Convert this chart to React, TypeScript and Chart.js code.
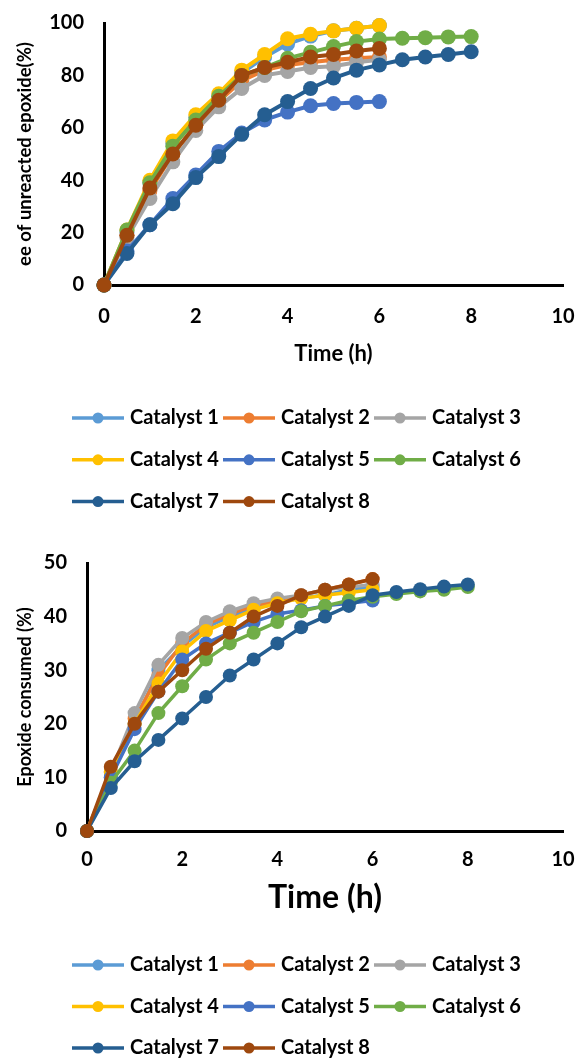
import React, { useEffect, useRef } from "react";
import { Chart, registerables } from "chart.js";

Chart.register(...registerables);

const FONT = "Lato, 'Open Sans', sans-serif";

const catalystNames = ["Catalyst 1", "Catalyst 2", "Catalyst 3", "Catalyst 4", "Catalyst 5", "Catalyst 6", "Catalyst 7", "Catalyst 8"];
const catalystColors = ["#5B9BD5", "#ED7D31", "#A5A5A5", "#FFC000", "#4472C4", "#70AD47", "#255E91", "#9E480E"];

const timeTo6 = [0, 0.5, 1, 1.5, 2, 2.5, 3, 3.5, 4, 4.5, 5, 5.5, 6];
const timeTo8 = [0, 0.5, 1, 1.5, 2, 2.5, 3, 3.5, 4, 4.5, 5, 5.5, 6, 6.5, 7, 7.5, 8];

// Chart 1: ee of unreacted epoxide (%)
const eeCatalyst1 = [0, 20, 39, 54, 64, 72, 81, 87, 92, 95, 97, 98, 99];
const eeCatalyst2 = [0, 19, 36, 50, 61, 70, 78, 82, 84, 85, 86, 86.5, 87];
const eeCatalyst3 = [0, 18, 33, 47, 59, 68, 75, 80, 81.5, 83, 83.5, 85, 86];
const eeCatalyst4 = [0, 21, 40, 55, 65, 73, 82, 88, 94, 95.7, 97, 98, 99];
const eeCatalyst5 = [0, 13, 23, 33, 42, 51, 58, 63, 66, 68.4, 69.3, 69.7, 70];
const eeCatalyst6 = [0, 21, 39, 53, 63, 72, 80, 83, 86.5, 88.8, 91, 92.9, 93.9, 94.2, 94.4, 94.7, 94.8];
const eeCatalyst7 = [0, 12, 23, 31, 41, 49, 57.5, 65, 70, 75, 79, 82, 84, 86, 87, 88, 89];
const eeCatalyst8 = [0, 19, 37, 50, 61, 70.5, 80, 83, 85, 87, 88, 89.3, 90.3];

// Chart 2: epoxide consumed (%)
const consumedCatalyst1 = [0, 10, 20, 30, 34.5, 38, 40, 41.5, 42.5, 43.5, 44, 45, 45.5];
const consumedCatalyst2 = [0, 11, 21, 29, 35, 38.5, 40.5, 42, 43, 44, 45, 46, 47];
const consumedCatalyst3 = [0, 11, 22, 31, 36, 39, 41, 42.5, 43.4, 44, 45, 45.5, 46];
const consumedCatalyst4 = [0, 11, 20, 27.5, 33.5, 37.3, 39.3, 41.3, 42.5, 43.4, 44, 44.5, 45];
const consumedCatalyst5 = [0, 10, 19, 26, 32, 35, 37, 39, 40.5, 41.2, 42, 42.5, 43];
const consumedCatalyst6 = [0, 9, 15, 22, 27, 32, 35, 37, 39, 41, 42, 43, 43.7, 44.2, 44.7, 45, 45.5];
const consumedCatalyst7 = [0, 8, 13, 17, 21, 25, 29, 32, 35, 38, 40, 42, 44, 44.6, 45.1, 45.6, 46];
const consumedCatalyst8 = [0, 12, 20, 26, 30, 34, 37, 40, 42, 44, 45, 46, 47];

const eeSeries = [eeCatalyst1, eeCatalyst2, eeCatalyst3, eeCatalyst4, eeCatalyst5, eeCatalyst6, eeCatalyst7, eeCatalyst8];
const consumedSeries = [consumedCatalyst1, consumedCatalyst2, consumedCatalyst3, consumedCatalyst4, consumedCatalyst5, consumedCatalyst6, consumedCatalyst7, consumedCatalyst8];

const xTickStep = 2;
const xMax = 10;
const eeTickStep = 20;
const eeMax = 100;
const consumedTickStep = 10;
const consumedMax = 50;

const gridLegend = {
  id: "gridLegend",
  afterDraw(chart: any, _args: any, opts: any) {
    const { ctx } = chart;
    ctx.save();
    ctx.font = `bold ${opts.fontSize}px ${FONT}`;
    ctx.textBaseline = "middle";
    ctx.textAlign = "left";
    chart.data.datasets.forEach((d: any, i: number) => {
      const col = i % opts.columns;
      const row = Math.floor(i / opts.columns);
      const x = opts.left + col * opts.colWidth;
      const y = opts.top + row * opts.rowHeight;
      ctx.strokeStyle = d.borderColor;
      ctx.lineWidth = opts.lineWidth;
      ctx.beginPath();
      ctx.moveTo(x, y);
      ctx.lineTo(x + opts.lineLength, y);
      ctx.stroke();
      ctx.fillStyle = d.backgroundColor;
      ctx.beginPath();
      ctx.arc(x + opts.lineLength / 2, y, opts.markerRadius, 0, Math.PI * 2);
      ctx.fill();
      ctx.fillStyle = "#000";
      ctx.fillText(d.label, x + opts.lineLength + opts.textGap, y);
    });
    ctx.restore();
  },
};

function buildDatasets(series: number[][], lineWidth: number, radius: number) {
  return series.map((vals, i) => {
    const times = vals.length === timeTo8.length ? timeTo8 : timeTo6;
    return {
      label: catalystNames[i],
      data: vals.map((v, j) => ({ x: times[j], y: v })),
      borderColor: catalystColors[i],
      backgroundColor: catalystColors[i],
      pointBackgroundColor: catalystColors[i],
      pointBorderColor: catalystColors[i],
      borderWidth: lineWidth,
      pointRadius: radius,
      pointBorderWidth: 0,
      pointHoverRadius: radius,
      tension: 0,
      clip: false,
      order: series.length - 1 - i,
    };
  });
}

type Cfg = {
  series: number[][];
  yMax: number;
  yStep: number;
  yTitle: string;
  yTitleSize: number;
  yWidth: number;
  xHeight: number;
  xTitleSize: number;
  xTitlePadBottom: number;
  xTickPad: number;
  padding: { left: number; top: number; right: number; bottom: number };
  legendTop: number;
  legendRow: number;
  lineWidth: number;
  radius: number;
};

function zeroPadding(s: any) {
  s.paddingTop = 0;
  s.paddingBottom = 0;
  s.paddingLeft = 0;
  s.paddingRight = 0;
}

function makeConfig(c: Cfg): any {
  const tickFont = { family: FONT, size: 20, weight: "bold" };
  return {
    type: "line",
    data: { datasets: buildDatasets(c.series, c.lineWidth, c.radius) },
    plugins: [gridLegend],
    options: {
      animation: false,
      responsive: true,
      maintainAspectRatio: false,
      layout: { padding: c.padding, autoPadding: false },
      plugins: {
        legend: { display: false },
        tooltip: { enabled: false },
        gridLegend: {
          columns: 3,
          left: 72,
          colWidth: 151,
          top: c.legendTop,
          rowHeight: c.legendRow,
          lineLength: 52,
          lineWidth: 3.5,
          markerRadius: 5.5,
          textGap: 6,
          fontSize: 20,
        },
      },
      scales: {
        x: {
          type: "linear",
          min: 0,
          max: xMax,
          ticks: { stepSize: xTickStep, color: "#000", font: tickFont, padding: c.xTickPad, maxRotation: 0 },
          grid: { display: false, drawTicks: false },
          border: { display: true, color: "#000", width: 3 },
          title: {
            display: true,
            text: "Time (h)",
            color: "#000",
            font: { family: FONT, size: c.xTitleSize, weight: "bold" },
            padding: { top: 0, bottom: c.xTitlePadBottom },
          },
          afterFit: (s: any) => {
            s.height = c.xHeight;
            zeroPadding(s);
          },
        },
        y: {
          type: "linear",
          min: 0,
          max: c.yMax,
          ticks: { stepSize: c.yStep, color: "#000", font: tickFont, padding: 20 },
          grid: { display: false, drawTicks: false },
          border: { display: true, color: "#000", width: 3 },
          title: {
            display: true,
            text: c.yTitle,
            color: "#000",
            font: { family: FONT, size: c.yTitleSize, weight: "bold" },
            padding: { top: 14, bottom: 0 },
          },
          afterFit: (s: any) => {
            s.width = c.yWidth;
            zeroPadding(s);
          },
        },
      },
    },
  };
}

function ChartCanvas({ cfg, height }: { cfg: Cfg; height: number }) {
  const ref = useRef<HTMLCanvasElement>(null);
  useEffect(() => {
    const chart = new Chart(ref.current as HTMLCanvasElement, makeConfig(cfg));
    return () => chart.destroy();
  }, []);
  return (
    <div style={{ position: "relative", width: 576, height }}>
      <canvas ref={ref} />
    </div>
  );
}

const eeCfg: Cfg = {
  series: eeSeries,
  yMax: eeMax,
  yStep: eeTickStep,
  yTitle: "ee of unreacted epoxide(%)",
  yTitleSize: 18.5,
  yWidth: 104,
  xHeight: 95,
  xTitleSize: 22,
  xTitlePadBottom: 13,
  xTickPad: 20,
  padding: { left: 0, top: 23, right: 13, bottom: 150 },
  legendTop: 418,
  legendRow: 41.8,
  lineWidth: 4,
  radius: 7.5,
};

const consumedCfg: Cfg = {
  series: consumedSeries,
  yMax: consumedMax,
  yStep: consumedTickStep,
  yTitle: "Epoxide consumed (%)",
  yTitleSize: 18,
  yWidth: 87,
  xHeight: 105,
  xTitleSize: 32,
  xTitlePadBottom: 19,
  xTickPad: 17,
  padding: { left: 0, top: 33, right: 13, bottom: 122 },
  legendTop: 435,
  legendRow: 41.5,
  lineWidth: 3.5,
  radius: 7,
};

export default function App() {
  return (
    <div style={{ position: "absolute", left: 0, top: 0, width: 576, height: 1058, overflow: "hidden", background: "#fff" }}>
      <ChartCanvas cfg={eeCfg} height={530} />
      <ChartCanvas cfg={consumedCfg} height={528} />
    </div>
  );
}
